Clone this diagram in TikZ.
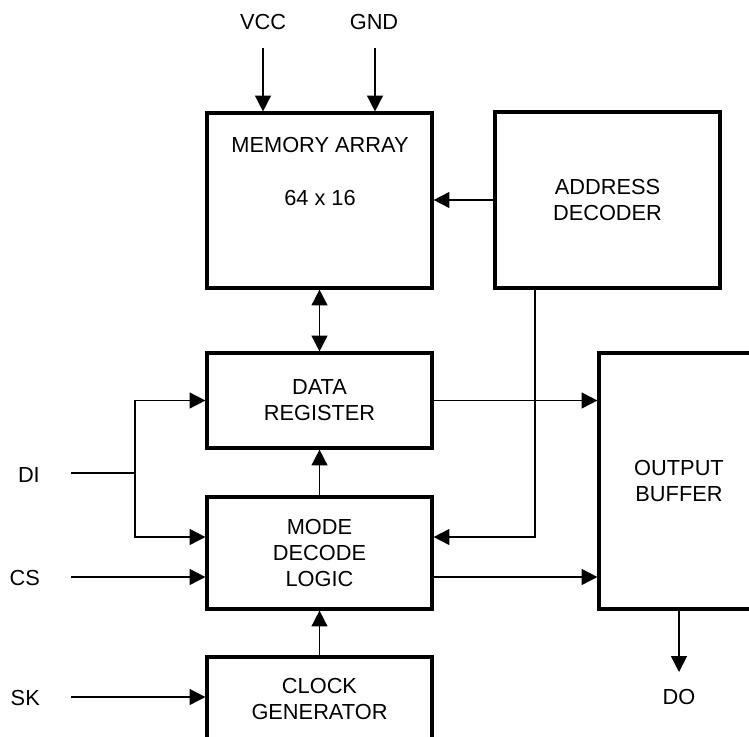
\documentclass[tikz,border=0pt]{standalone}
\usepackage{fontspec}
\setmainfont{Liberation Sans}
\usetikzlibrary{arrows.meta}

\begin{document}
\begin{tikzpicture}[x=0.02cm, y=-0.02cm,
    block/.style={draw, line width=1.8pt, minimum width=4.5cm, inner sep=0pt,
        font=\fontsize{12.4}{14.7}\selectfont, align=center},
    lbl/.style={font=\fontsize{12.4}{14.7}\selectfont},
    conn/.style={line width=0.9pt},
    arrow/.style={conn, -{Triangle[length=9pt, width=9pt]}},
    twoway/.style={conn, {Triangle[length=9pt, width=9pt]}-{Triangle[length=9pt, width=9pt]}}]
\useasboundingbox (0,0) rectangle (749,736);
\clip (0,0) rectangle (749,736);
% blocks
\node[block, minimum height=3.5cm] (mem) at (319.5,200.5) {};
\node[lbl] (memtxt) at (320,145) {MEMORY ARRAY};
\node[lbl] (memsize) at (320,198) {64 x 16};
\node[block, minimum height=3.52cm] (addr) at (607.5,200) {ADDRESS\\DECODER};
\node[block, minimum height=1.9cm] (data) at (319.5,400.5) {DATA\\REGISTER};
\node[block, minimum height=2.24cm] (mode) at (319.5,553) {MODE\\DECODE\\LOGIC};
\node[block, minimum height=1.68cm] (clk) at (319.5,699) {CLOCK\\GENERATOR};
\node[block, minimum width=3.2cm, minimum height=5.12cm] (out) at (679,481) {OUTPUT\\BUFFER};
% pins
\node[lbl] (vcc) at (263,22) {VCC};
\node[lbl] (gnd) at (374,22) {GND};
\node[lbl, anchor=east] (di) at (46,475) {DI};
\node[lbl, anchor=east] (cs) at (46,578) {CS};
\node[lbl, anchor=east] (sk) at (46,698) {SK};
\node[lbl] (do) at (679,697) {DO};
\coordinate (vccin) at (263,48);
\coordinate (gndin) at (375,48);
\coordinate (diin) at (71,473);
\coordinate (dibr) at (135,473);
\coordinate (csin) at (71,577);
\coordinate (skin) at (71,697);
\coordinate (doout) at (679,672);
\coordinate (addrdown) at (535,537);
% connectors
\draw[arrow] (vccin) -- (vccin |- mem.north);
\draw[arrow] (gndin) -- (gndin |- mem.north);
\draw[arrow] (addr.west) -- (mem.east |- addr.west);
\draw[twoway] (mem.south) -- (data.north);
\draw[arrow] (mode.north) -- (data.south);
\draw[arrow] (clk.north) -- (mode.south);
\draw[conn] (diin) -- (dibr);
\draw[arrow] (dibr) |- (data.west);
\draw[arrow] (dibr) |- (mode.west |- addrdown);
\draw[arrow] (csin) -- (mode.west |- csin);
\draw[arrow] (skin) -- (clk.west |- skin);
\draw[arrow] (addrdown |- addr.south) -- (addrdown) -- (mode.east |- addrdown);
\draw[arrow] (data.east) -- (out.west |- data.east);
\draw[arrow] (mode.east |- csin) -- (out.west |- csin);
\draw[arrow] (out.south) -- (doout);
\end{tikzpicture}
\end{document}
